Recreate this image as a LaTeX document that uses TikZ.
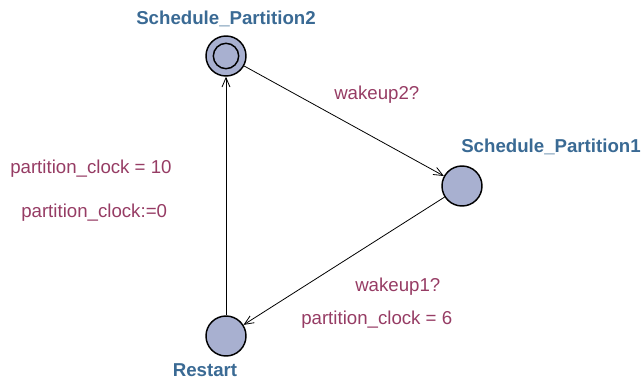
\documentclass[tikz,border=0pt]{standalone}
\usepackage{fontspec}
\setmainfont{Liberation Sans}
\usepackage{tikz}
\usetikzlibrary{arrows.meta}

\definecolor{locfill}{RGB}{168,176,208}
\definecolor{locname}{RGB}{58,106,148}
\definecolor{edgelab}{RGB}{150,60,100}

\tikzset{
  loc/.style={circle,draw=black,line width=1.1pt,fill=locfill,minimum size=30,inner sep=0pt},
  locname/.style={font=\fontsize{14}{16}\selectfont\bfseries,text=locname,inner sep=0.75pt},
  edgelab/.style={font=\fontsize{14}{16}\selectfont,text=edgelab,inner sep=0.75pt,anchor=west},
  trans/.style={draw=black,line width=0.6pt,-{Straight Barb[length=7pt,width=6pt]}}
}

\begin{document}
\begin{tikzpicture}[x=0.75pt,y=0.75pt,yscale=-1,xscale=1]
\useasboundingbox (0,0) rectangle (642,381);

%Locations
\node [loc] (sp2) at (226,56) {};
\node [circle,draw=black,line width=1.1pt,minimum size=19,inner sep=0pt] at (sp2) {};
\node [loc] (sp1) at (462,186) {};
\node [loc] (rst) at (226,336) {};

% Location names
\node [locname] (sp2name) at (226,19) {Schedule\_Partition2};
\node [locname] (sp1name) at (551,147) {Schedule\_Partition1};
\node [locname] (rstname) at (205,370) {Restart};

%Transitions
\draw [trans] (sp2) -- (sp1);
\draw [trans] (sp1) -- (rst);
\draw [trans] (rst) -- (sp2);

% Text Node
\node [edgelab] (sync2) at (333,95) {wakeup2?};
% Text Node
\node [edgelab] (guard10) at (9,169) {partition\_clock = 10};
% Text Node
\node [edgelab] (reset) at (20,213) {partition\_clock:=0};
% Text Node
\node [edgelab] (sync1) at (354,287) {wakeup1?};
% Text Node
\node [edgelab] (guard6) at (300,320) {partition\_clock = 6};

\end{tikzpicture}
\end{document}
